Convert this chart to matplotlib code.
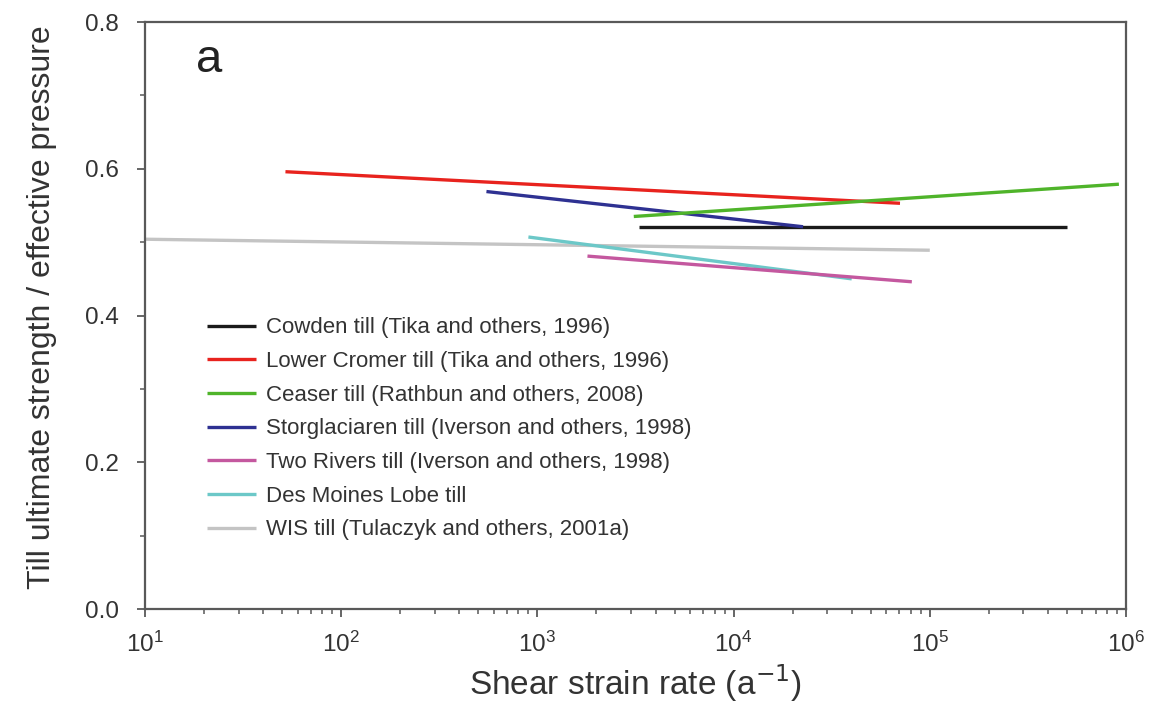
import numpy as np
import matplotlib
matplotlib.use('Agg')
import matplotlib.pyplot as plt
from matplotlib.ticker import LogLocator, MultipleLocator, NullFormatter

plt.rcParams['font.family'] = ['Liberation Sans', 'DejaVu Sans']

# strain-rate range (a^-1) and strength ratio at each end of every till fit
labels = ['Cowden till (Tika and others, 1996)',
          'Lower Cromer till (Tika and others, 1996)',
          'Ceaser till (Rathbun and others, 2008)',
          'Storglaciaren till (Iverson and others, 1998)',
          'Two Rivers till (Iverson and others, 1998)',
          'Des Moines Lobe till',
          'WIS till (Tulaczyk and others, 2001a)']
rateStart = [3300, 52, 3100, 550, 1800, 900, 10]
rateEnd = [500000, 70500, 920000, 22600, 81000, 40000, 100000]
ratioStart = [0.521, 0.596, 0.535, 0.569, 0.481, 0.507, 0.504]
ratioEnd = [0.521, 0.553, 0.579, 0.521, 0.446, 0.450, 0.489]
colors = ['#1a1a1a', '#e8231e', '#4fb42a', '#2e3192', '#c4589f', '#6cc8c8', '#c4c4c4']

# draw order in the panel (gray underneath, black on top of blue etc.)
drawOrder = [6, 5, 4, 0, 3, 1, 2]

fig = plt.figure(figsize=(11.57, 7.04), dpi=100)
ax = fig.add_axes([0.1253, 0.1349, 0.8479, 0.8338])

lines = {}
for i in drawOrder:
    ln, = ax.plot([rateStart[i], rateEnd[i]], [ratioStart[i], ratioEnd[i]],
                  color=colors[i], lw=2.4, solid_capstyle='butt', label=labels[i])
    lines[i] = ln

ax.set_xscale('log')
ax.set_xlim(10, 1e6)
ax.set_ylim(0, 0.8)
ax.xaxis.set_major_locator(LogLocator(base=10, numticks=10))
ax.xaxis.set_minor_locator(LogLocator(base=10, subs=np.arange(2, 10), numticks=20))
ax.xaxis.set_minor_formatter(NullFormatter())
ax.yaxis.set_major_locator(MultipleLocator(0.2))
ax.yaxis.set_minor_locator(MultipleLocator(0.1))
ax.yaxis.set_major_formatter(plt.FormatStrFormatter('%.1f'))

spineCol = '#595959'
for s in ax.spines.values():
    s.set_color(spineCol)
    s.set_linewidth(1.6)
ax.tick_params(axis='both', which='major', direction='out', length=6, width=1.3,
               color=spineCol, labelsize=17.5, labelcolor='#333333')
ax.tick_params(axis='y', which='major', pad=13)
ax.tick_params(axis='x', which='major', pad=10)
ax.tick_params(axis='both', which='minor', direction='out', length=3.5, width=1.1,
               color=spineCol)

ax.set_xlabel('Shear strain rate (a$^{-1}$)', fontsize=24, color='#333333', labelpad=4)
ax.set_ylabel('Till ultimate strength / effective pressure', fontsize=23,
              color='#333333')
ax.yaxis.set_label_coords(-0.09, 0.515)

ax.text(0.065, 0.935, 'a', transform=ax.transAxes, fontsize=34, color='#222222',
        ha='center', va='center')

leg = ax.legend(handles=[lines[i] for i in range(7)], loc='upper left',
                bbox_to_anchor=(0.054, 0.512), frameon=False, fontsize=16,
                handlelength=2.2, handletextpad=0.45, labelspacing=0.57,
                borderaxespad=0)
for t in leg.get_texts():
    t.set_color('#333333')

fig.savefig('out.png', dpi=100)
